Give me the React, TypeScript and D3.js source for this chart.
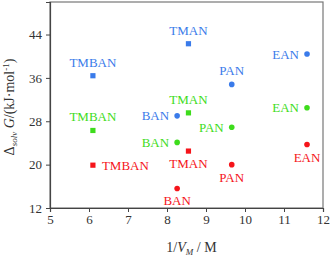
import React, { useRef, useEffect } from 'react';
import * as d3 from 'd3';

const compounds = ['TMBAN', 'TMAN', 'BAN', 'PAN', 'EAN'];
const invVm = [6.1, 8.55, 8.26, 9.66, 11.59];
const shapes = ['square', 'square', 'circle', 'circle', 'circle'];

const blueValues = [36.4, 42.3, 29.0, 34.8, 40.4];
const greenValues = [26.3, 29.55, 24.1, 26.9, 30.5];
const redValues = [19.9, 22.5, 15.6, 20.0, 23.7];

const blueLabelPos = ['top', 'top', 'left', 'top', 'left'];
const greenLabelPos = ['top', 'top', 'left', 'left', 'left'];
const redLabelPos = ['right', 'bottom', 'bottom', 'bottom', 'bottom'];

const xTicks = [5, 6, 7, 8, 9, 10, 11, 12];
const yTicks = [12, 20, 28, 36, 44];

const series = [
  { color: '#3a7bea', values: blueValues, pos: blueLabelPos },
  { color: '#3edc1c', values: greenValues, pos: greenLabelPos },
  { color: '#f5141a', values: redValues, pos: redLabelPos },
];

export default function App(): React.ReactElement {
  const ref = useRef<SVGSVGElement | null>(null);

  useEffect(() => {
    if (!ref.current) return;
    const width = 331;
    const height = 259;
    const margin = { top: 2, right: 8, bottom: 51, left: 50 };
    const font = '"Liberation Serif", "DejaVu Serif", serif';

    const svg = d3.select(ref.current);
    svg.selectAll('*').remove();

    const x = d3.scaleLinear().domain([5, 12]).range([margin.left, width - margin.right]);
    const y = d3.scaleLinear().domain([12, 50]).range([height - margin.bottom, margin.top]);

    // frame
    svg.append('rect')
      .attr('x', margin.left)
      .attr('y', margin.top)
      .attr('width', width - margin.left - margin.right)
      .attr('height', height - margin.top - margin.bottom)
      .attr('fill', 'none')
      .attr('stroke', '#777')
      .attr('stroke-width', 1.2);

    const xAxis = svg.append('g')
      .attr('transform', `translate(0,${height - margin.bottom})`)
      .call(d3.axisBottom(x).tickValues(xTicks).tickSize(4).tickPadding(3).tickFormat(d3.format('d')));
    const yAxis = svg.append('g')
      .attr('transform', `translate(${margin.left},0)`)
      .call(d3.axisLeft(y).tickValues(yTicks).tickSize(4).tickPadding(4).tickFormat(d3.format('d')));

    [xAxis, yAxis].forEach(g => {
      g.select('.domain').attr('stroke', '#444').attr('stroke-width', 1.2);
      g.selectAll('.tick line').attr('stroke', '#444');
      g.selectAll('.tick text')
        .attr('fill', '#333')
        .style('font-family', font)
        .style('font-size', '13px');
    });

    series.forEach(s => {
      compounds.forEach((name, i) => {
        const cx = x(invVm[i]);
        const cy = y(s.values[i]);
        if (shapes[i] === 'square') {
          svg.append('rect')
            .attr('x', cx - 2.6).attr('y', cy - 2.6)
            .attr('width', 5.2).attr('height', 5.2)
            .attr('fill', s.color);
        } else {
          svg.append('circle')
            .attr('cx', cx).attr('cy', cy).attr('r', 2.8)
            .attr('fill', s.color);
        }
        const p = s.pos[i];
        const t = svg.append('text')
          .text(name)
          .attr('fill', s.color)
          .style('font-family', font)
          .style('font-size', '13px');
        if (p === 'top') {
          t.attr('x', cx).attr('y', cy - 9).attr('text-anchor', 'middle');
        } else if (p === 'bottom') {
          t.attr('x', cx).attr('y', cy + 17).attr('text-anchor', 'middle');
        } else if (p === 'left') {
          t.attr('x', cx - 8).attr('y', cy + 4.5).attr('text-anchor', 'end');
        } else {
          t.attr('x', cx + 9).attr('y', cy + 4.5).attr('text-anchor', 'start');
        }
      });
    });

    // x label
    const xl = svg.append('text')
      .attr('x', (margin.left + width - margin.right) / 2 + 5)
      .attr('y', 252)
      .attr('text-anchor', 'middle')
      .attr('fill', '#333')
      .style('font-family', font)
      .style('font-size', '14px');
    xl.append('tspan').text('1/');
    xl.append('tspan').text('V').style('font-style', 'italic');
    xl.append('tspan').text('M').style('font-style', 'italic').style('font-size', '9px').attr('dy', 3);
    xl.append('tspan').text(' / M').attr('dy', -3);

    // y label
    const yl = svg.append('text')
      .attr('transform', `translate(14,${(margin.top + height - margin.bottom) / 2 + 2}) rotate(-90)`)
      .attr('text-anchor', 'middle')
      .attr('fill', '#333')
      .style('font-family', font)
      .style('font-size', '14px');
    yl.append('tspan').text('Δ');
    yl.append('tspan').text('solv').style('font-style', 'italic').style('font-size', '9px').attr('dy', 3);
    yl.append('tspan').text(' G').style('font-style', 'italic').attr('dy', -3);
    yl.append('tspan').text('/(kJ·mol');
    yl.append('tspan').text('-1').style('font-size', '9px').attr('dy', -5);
    yl.append('tspan').text(')').attr('dy', 5);
  }, []);

  return (
    <svg
      ref={ref}
      width={331}
      height={259}
      style={{ position: 'absolute', left: 0, top: 0, background: '#fff' }}
    />
  );
}
